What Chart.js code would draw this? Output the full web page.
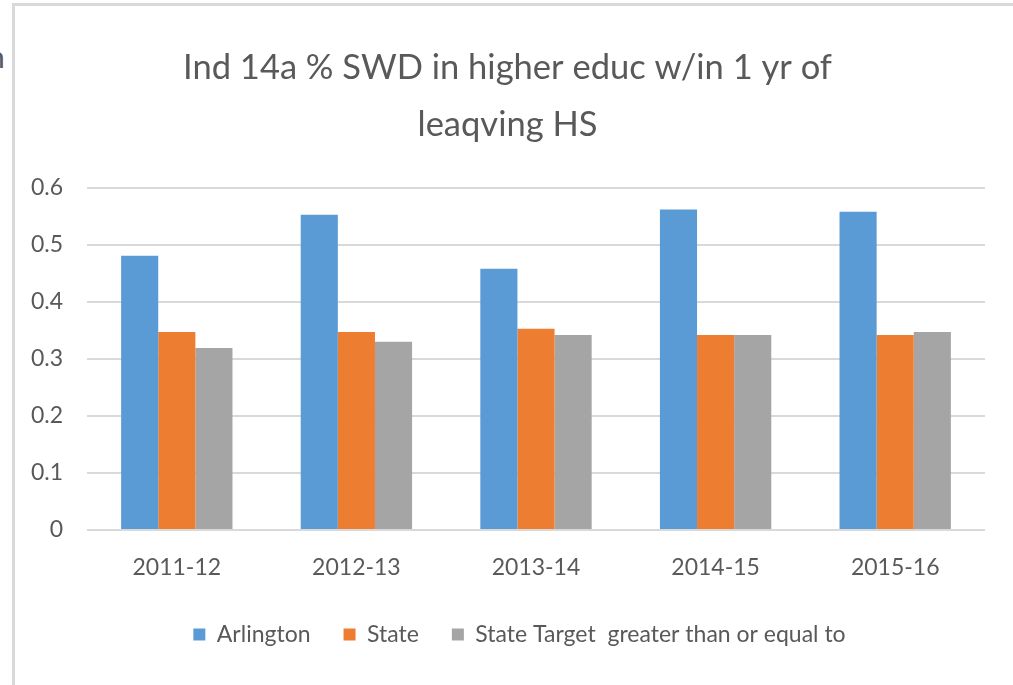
<!DOCTYPE html>
<html>
<head>
<meta charset="utf-8">
<script src="https://cdn.jsdelivr.net/npm/chart.js@4"></script>
<style>
  body { margin: 0; background: #fff; }
  #wrap { position: relative; width: 1013px; height: 685px; overflow: hidden; }
  #frame { position: absolute; left: 12px; top: 3px; right: 0; bottom: 0;
           border-left: 3px solid #d9d9d9; border-top: 3px solid #d9d9d9; }
  #frag { position: absolute; left: -12px; top: 38px; font: 30px Lato, sans-serif; color: #595959; }
  canvas { position: absolute; left: 0; top: 0; }
</style>
</head>
<body>
<div id="wrap">
  <div id="frame"></div>
  <div id="frag">n</div>
  <canvas id="myChart" width="1013" height="685"></canvas>
</div>
<script>
const years = ["2011-12", "2012-13", "2013-14", "2014-15", "2015-16"];
const arlington = [0.481, 0.553, 0.458, 0.562, 0.558];
const state = [0.347, 0.347, 0.353, 0.342, 0.342];
const stateTarget = [0.319, 0.330, 0.342, 0.342, 0.347];
const yTicks = [0, 0.1, 0.2, 0.3, 0.4, 0.5, 0.6];

const textColor = "#595959";
const ctx = document.getElementById("myChart").getContext("2d");

// legend and title in the original sit a bit right of the chart centre
const shiftBoxes = {
  id: "shiftBoxes",
  afterLayout(chart) {
    chart.legend.left += 17;
    chart.legend.right += 17;
    chart.titleBlock.left += 5;
    chart.titleBlock.right += 5;
  },
};

var myChart = new Chart(ctx, {
  type: "bar",
  data: {
    labels: years,
    datasets: [
      { label: "Arlington", data: arlington, backgroundColor: "#5b9bd5" },
      { label: "State", data: state, backgroundColor: "#ed7d31" },
      { label: "State Target  greater than or equal to", data: stateTarget, backgroundColor: "#a5a5a5" },
    ],
  },
  options: {
    responsive: false,
    animation: false,
    layout: { padding: { left: 20, right: 28, top: 4, bottom: 29 } },
    datasets: { bar: { categoryPercentage: 0.62, barPercentage: 1.0 } },
    scales: {
      x: {
        afterFit: (axis) => { axis.height = 60; },
        grid: { display: false },
        border: { display: false },
        ticks: { color: textColor, font: { family: "Lato", size: 23 }, padding: 16 },
      },
      y: {
        min: 0,
        max: 0.6,
        afterFit: (axis) => { axis.width = 67; },
        afterBuildTicks: (axis) => { axis.ticks = yTicks.map((v) => ({ value: v })); },
        grid: { color: "#d9d9d9", lineWidth: 2, drawTicks: false },
        border: { display: false },
        ticks: { color: textColor, font: { family: "Lato", size: 23 }, padding: 24 },
      },
    },
    plugins: {
      title: {
        display: true,
        text: ["Ind 14a % SWD in higher educ w/in 1 yr of", "leaqving HS"],
        color: textColor,
        font: { family: "Lato", size: 34.5, weight: "normal", lineHeight: 1.65 },
        padding: { top: 35.5, bottom: 34.5 },
      },
      legend: {
        position: "bottom",
        labels: {
          color: textColor,
          font: { family: "Lato", size: 23 },
          boxWidth: 12,
          boxHeight: 12,
          padding: 33,
        },
      },
      tooltip: { enabled: false },
    },
  },
  plugins: [shiftBoxes],
});
</script>
</body>
</html>
